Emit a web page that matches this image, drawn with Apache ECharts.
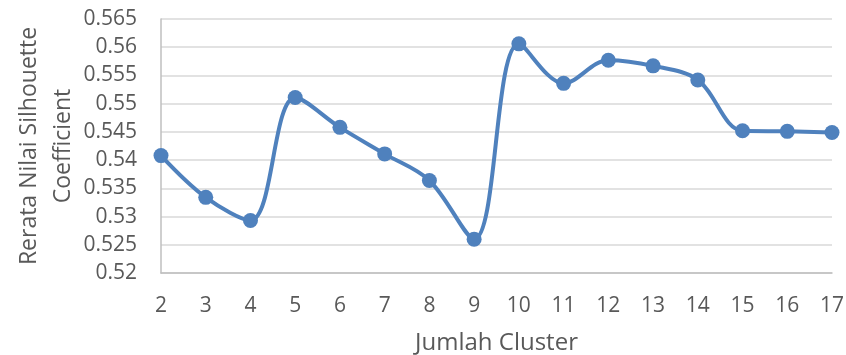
<!DOCTYPE html>
<html>
<head>
<meta charset="utf-8">
<script src="https://cdn.jsdelivr.net/npm/echarts@6/dist/echarts.min.js"></script>
<style>html,body{margin:0;padding:0;background:#fff}#c{width:846px;height:355px}</style>
</head>
<body>
<div id="c"></div>
<script>
const categories = ['2','3','4','5','6','7','8','9','10','11','12','13','14','15','16','17'];
const silhouette = [0.5408,0.5334,0.5293,0.5511,0.5458,0.5411,0.5364,0.5260,0.5606,0.5536,0.5577,0.5567,0.5542,0.5452,0.5451,0.5449];
const yMin = 0.52, yMax = 0.565, yStep = 0.005;
const xTitle = 'Jumlah Cluster';
const yTitle = 'Rerata Nilai Silhouette\nCoefficient';

const font = 'Open Sans';
const chart = echarts.init(document.getElementById('c'), null, {renderer:'canvas'});
chart.setOption({
  animation:false,
  backgroundColor:'#fff',
  grid:{left:161,right:14,top:19,bottom:82,containLabel:false,outerBoundsMode:'none'},
  xAxis:{
    type:'category', data:categories, boundaryGap:false,
    axisLine:{lineStyle:{color:'#bfbfbf',width:1.5}},
    axisTick:{show:false},
    axisLabel:{color:'#595959',fontFamily:font,fontSize:21,margin:23},
    name:xTitle, nameLocation:'middle', nameGap:58, nameMoveOverlap:false,
    nameTextStyle:{color:'#595959',fontFamily:font,fontSize:24}
  },
  yAxis:{
    type:'value', min:yMin, max:yMax, interval:yStep,
    axisLine:{show:true,lineStyle:{color:'#bfbfbf',width:1.5}},
    axisTick:{show:false},
    splitLine:{lineStyle:{color:'#d9d9d9',width:1.5}},
    axisLabel:{color:'#595959',fontFamily:font,fontSize:21,margin:24,
      formatter:v=>String(parseFloat(v.toFixed(3)))},
    name:yTitle, nameLocation:'middle', nameGap:81, nameRotate:90, nameMoveOverlap:false,
    nameTextStyle:{color:'#595959',fontFamily:font,fontSize:23,lineHeight:34,align:'center'}
  },
  series:[{
    type:'line', data:silhouette, smooth:0.35,
    lineStyle:{color:'#4f81bd',width:4},
    itemStyle:{color:'#4f81bd'},
    symbol:'circle', symbolSize:15, showSymbol:true
  }]
});
</script>
</body>
</html>
